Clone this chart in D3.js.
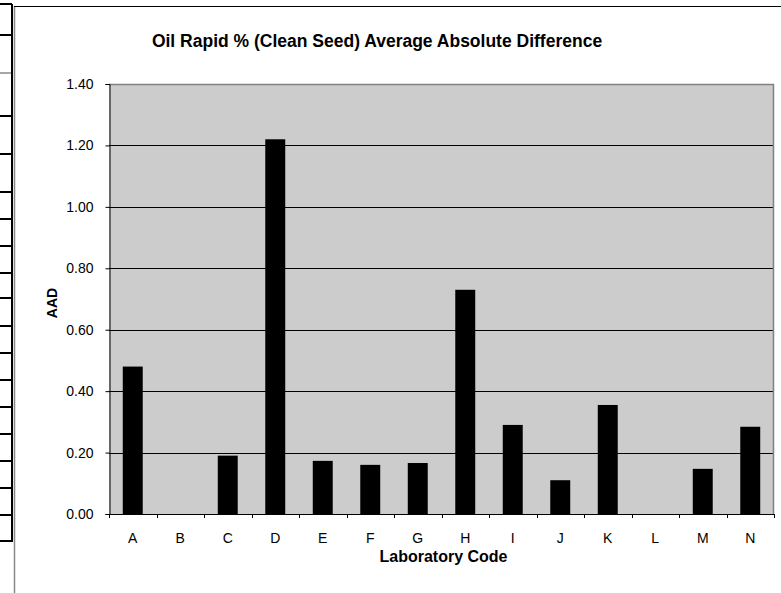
<!DOCTYPE html>
<html>
<head>
<meta charset="utf-8">
<script src="https://cdn.jsdelivr.net/npm/d3@7"></script>
<style>
  body { margin: 0; background: #fff; }
  svg { display: block; font-family: Arial, "Liberation Sans", sans-serif; }
</style>
</head>
<body>
<div id="root"></div>
<script>
// chart data
const labs = ['A', 'B', 'C', 'D', 'E', 'F', 'G', 'H', 'I', 'J', 'K', 'L', 'M', 'N'];
const aad = [0.48, null, 0.19, 1.22, 0.173, 0.16, 0.166, 0.73, 0.29, 0.11, 0.355, null, 0.147, 0.284];
const yTicks = [0, 0.2, 0.4, 0.6, 0.8, 1.0, 1.2, 1.4];

// spreadsheet cell borders peeking in on the left
const cellRows = [4, 35, 116, 154, 192, 219, 246, 273, 298, 326, 353, 380, 407, 434, 461, 488, 515, 541];

const W = 781, H = 593;
const plot = { left: 109, right: 774, top: 84, bottom: 514 };
const font = 'Arial, "Liberation Sans", sans-serif';

const svg = d3.select('#root').append('svg')
  .attr('width', W)
  .attr('height', H);

// left sheet decoration
svg.append('line')
  .attr('x1', 12).attr('x2', 12).attr('y1', 4).attr('y2', 542)
  .attr('stroke', '#000').attr('stroke-width', 2);
svg.append('g').selectAll('line').data(cellRows)
  .enter().append('line')
    .attr('x1', 0).attr('x2', 12)
    .attr('y1', (d) => d).attr('y2', (d) => d)
    .attr('stroke', '#000').attr('stroke-width', 2);
svg.append('line')
  .attr('x1', 0).attr('x2', 12).attr('y1', 73).attr('y2', 73)
  .attr('stroke', '#000').attr('stroke-width', 0.7);

// chart area border
svg.append('line')
  .attr('x1', 14.5).attr('x2', 14.5).attr('y1', 6).attr('y2', H)
  .attr('stroke', '#888').attr('stroke-width', 1.5);
svg.append('line')
  .attr('x1', 14).attr('x2', W).attr('y1', 6.5).attr('y2', 6.5)
  .attr('stroke', '#000').attr('stroke-width', 1);

// scales
const y = d3.scaleLinear()
  .domain([0, 1.4])
  .range([plot.bottom, plot.top]);

const x = d3.scaleBand()
  .domain(labs)
  .range([plot.left, plot.right])
  .paddingInner(0.58)
  .paddingOuter(0.29);

// plot area background
svg.append('rect')
  .attr('x', plot.left).attr('y', plot.top)
  .attr('width', plot.right - plot.left)
  .attr('height', plot.bottom - plot.top)
  .attr('fill', '#cccccc');

// gridlines
svg.append('g').selectAll('line').data(yTicks.filter((d) => d > 0 && d < 1.4))
  .enter().append('line')
    .attr('x1', plot.left).attr('x2', plot.right)
    .attr('y1', (d) => Math.round(y(d)) + 0.5).attr('y2', (d) => Math.round(y(d)) + 0.5)
    .attr('stroke', '#000').attr('stroke-width', 1);

// plot area border (top, right)
svg.append('path')
  .attr('d', `M${plot.left},${plot.top + 0.5}H${plot.right - 0.5}V${plot.bottom}`)
  .attr('fill', 'none')
  .attr('stroke', '#808080')
  .attr('stroke-width', 1.5);

// bars
svg.append('g').selectAll('rect').data(labs.map((l, i) => ({ lab: l, v: aad[i] })).filter((d) => d.v != null))
  .enter().append('rect')
    .attr('x', (d) => x(d.lab))
    .attr('y', (d) => y(d.v))
    .attr('width', x.bandwidth())
    .attr('height', (d) => y(0) - y(d.v))
    .attr('fill', '#000');

// y axis
const yAxis = d3.axisLeft(y)
  .tickValues(yTicks)
  .tickFormat(d3.format('.2f'))
  .tickSize(4)
  .tickPadding(12);

const gy = svg.append('g')
  .attr('transform', `translate(${plot.left + 0.5}, 0)`)
  .call(yAxis);
gy.select('.domain').attr('stroke', '#000');
gy.selectAll('text')
  .attr('font-size', '14px')
  .attr('fill', '#000')
  .attr('font-family', font);

// x axis: ticks sit on the category boundaries
const step = x.step();
svg.append('line')
  .attr('x1', plot.left).attr('x2', plot.right + 0.5)
  .attr('y1', plot.bottom + 0.5).attr('y2', plot.bottom + 0.5)
  .attr('stroke', '#000');
svg.append('g').selectAll('line').data(d3.range(labs.length + 1))
  .enter().append('line')
    .attr('x1', (i) => Math.round(plot.left + i * step) + 0.5)
    .attr('x2', (i) => Math.round(plot.left + i * step) + 0.5)
    .attr('y1', plot.bottom).attr('y2', plot.bottom + 4)
    .attr('stroke', '#000');
svg.append('g').selectAll('text').data(labs)
  .enter().append('text')
    .attr('x', (d) => x(d) + x.bandwidth() / 2)
    .attr('y', plot.bottom + 29)
    .attr('text-anchor', 'middle')
    .attr('font-size', '14px')
    .text((d) => d);

// title
svg.append('text')
  .attr('x', 377)
  .attr('y', 47)
  .attr('text-anchor', 'middle')
  .attr('font-size', '17.5px')
  .attr('font-weight', 'bold')
  .text('Oil Rapid % (Clean Seed) Average Absolute Difference');

// axis titles
svg.append('text')
  .attr('x', (plot.left + plot.right) / 2 + 2)
  .attr('y', plot.bottom + 48)
  .attr('text-anchor', 'middle')
  .attr('font-size', '16px')
  .attr('font-weight', 'bold')
  .text('Laboratory Code');

svg.append('text')
  .attr('transform', `translate(57, 303) rotate(-90)`)
  .attr('text-anchor', 'middle')
  .attr('font-size', '14px')
  .attr('font-weight', 'bold')
  .text('AAD');
</script>
</body>
</html>
